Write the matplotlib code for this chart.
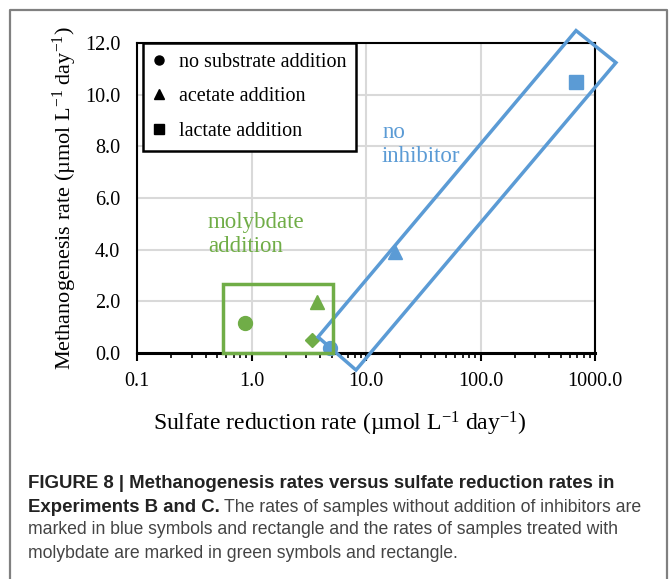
import matplotlib.pyplot as plt
from matplotlib.lines import Line2D
from matplotlib.patches import Polygon, Rectangle

# data
blue_x = [4.85, 17.9, 677.0]
blue_y = [0.2, 3.9, 10.5]
green_x = [0.88, 3.73, 3.38]
green_y = [1.16, 1.98, 0.5]
markers = ['o', '^', 's']
green_markers = ['o', '^', 'D']

# enclosing boxes (data coords)
blue_box_x = [3.81, 8.18, 1524.0, 683.0]
blue_box_y = [0.62, -0.66, 11.24, 12.48]
green_box = (0.564, 0.0, 5.2, 2.67)  # x0, y0, x1, y1

legend_labels = ['no substrate addition', 'acetate addition', 'lactate addition']
xticks = [0.1, 1, 10, 100, 1000]
xticklabels = ['0.1', '1.0', '10.0', '100.0', '1000.0']
yticks = [0, 2, 4, 6, 8, 10, 12]

blue = '#5B9BD5'
green = '#70AD47'
serif = 'Liberation Serif'

plt.rcParams['font.family'] = serif
plt.rcParams['mathtext.fontset'] = 'custom'
plt.rcParams['mathtext.rm'] = serif
plt.rcParams['mathtext.it'] = serif + ':italic'

W, H = 670, 579
fig = plt.figure(figsize=(W / 100, H / 100), dpi=100)

# outer frame of the figure panel
fig.add_artist(Line2D([10 / W, 10 / W, 667 / W, 667 / W],
                      [0, 1 - 10 / H, 1 - 10 / H, 0],
                      transform=fig.transFigure, color='#808080', lw=1.6))

ax = fig.add_axes([137 / W, (H - 353) / H, (595 - 137) / W, (353 - 43) / H])
ax.set_xscale('log')
ax.set_xlim(0.1, 1000)
ax.set_ylim(0, 12)
ax.grid(True, which='major', color='#d9d9d9', lw=1.5)
ax.set_axisbelow(True)

for s in ['top', 'right', 'left']:
    ax.spines[s].set_linewidth(1.5)
ax.spines['bottom'].set_linewidth(2.2)

ax.set_xticks(xticks)
ax.set_xticklabels(xticklabels, fontsize=14.5)
ax.set_yticks(yticks)
ax.set_yticklabels([f'{v:.1f}' for v in yticks], fontsize=14.5)
ax.tick_params(axis='x', which='major', direction='out', length=5.5, width=1.5, pad=8)
ax.tick_params(axis='x', which='minor', direction='out', length=3.5, width=1.2)
ax.tick_params(axis='y', length=0, pad=12)

sup = r'$^{\mathregular{-1}}$'
ax.set_xlabel(f'Sulfate reduction rate (µmol L{sup} day{sup})', fontsize=17, labelpad=14)
ax.xaxis.label.set_x(0.442)
ax.set_ylabel(f'Methanogenesis rate (µmol L{sup} day{sup})', fontsize=16, labelpad=4)

for x, y, m in zip(blue_x, blue_y, markers):
    ax.plot(x, y, marker=m, color=blue, ms=10, ls='none', clip_on=False, zorder=4)
for x, y, m in zip(green_x, green_y, green_markers):
    ax.plot(x, y, marker=m, color=green, ms=10 if m != 'D' else 7.5, ls='none',
            clip_on=False, zorder=4)

ax.add_patch(Polygon(list(zip(blue_box_x, blue_box_y)), closed=True, fill=False,
                     edgecolor=blue, lw=2.5, clip_on=False, zorder=5))
gx0, gy0, gx1, gy1 = green_box
ax.add_patch(Rectangle((gx0, gy0), gx1 - gx0, gy1 - gy0, fill=False,
                       edgecolor=green, lw=2.5, clip_on=False, zorder=5))

ax.text(13.8, 8.95, 'no\ninhibitor', color=blue, fontsize=16.5,
        va='top', linespacing=1.2)
ax.text(0.417, 5.45, 'molybdate\naddition', color=green, fontsize=16.5,
        va='top', linespacing=1.2)

handles = [Line2D([], [], marker=m, color='black', ls='none', ms=6.5) for m in markers]
leg = ax.legend(handles, legend_labels, loc='upper left', bbox_to_anchor=(0.014, 1.0),
                prop={'size': 14.5}, frameon=True, fancybox=False,
                edgecolor='black', framealpha=1, borderpad=0.5, labelspacing=0.75,
                handlelength=0.5, handletextpad=0.75, borderaxespad=0)
leg.get_frame().set_linewidth(1.8)

# caption
cap_font = 'Liberation Sans'
fig.text(28 / W, 1 - 483 / H,
         'FIGURE 8 | Methanogenesis rates versus sulfate reduction rates in',
         fontfamily=cap_font, fontweight='bold', fontsize=13.4, color='#222222',
         va='center')
t = fig.text(28 / W, 1 - 507 / H, 'Experiments B and C.', fontfamily=cap_font,
             fontweight='bold', fontsize=13.4, color='#222222', va='center')
fig.canvas.draw()
bb = t.get_window_extent()
fig.text(bb.x1 / W + 4 / W, 1 - 507 / H,
         'The rates of samples without addition of inhibitors are',
         fontfamily=cap_font, fontsize=12.7, color='#444444', va='center')
fig.text(28 / W, 1 - 530 / H,
         'marked in blue symbols and rectangle and the rates of samples treated with',
         fontfamily=cap_font, fontsize=12.7, color='#444444', va='center')
fig.text(28 / W, 1 - 553 / H,
         'molybdate are marked in green symbols and rectangle.',
         fontfamily=cap_font, fontsize=12.7, color='#444444', va='center')

fig.savefig('out.png', dpi=100)
